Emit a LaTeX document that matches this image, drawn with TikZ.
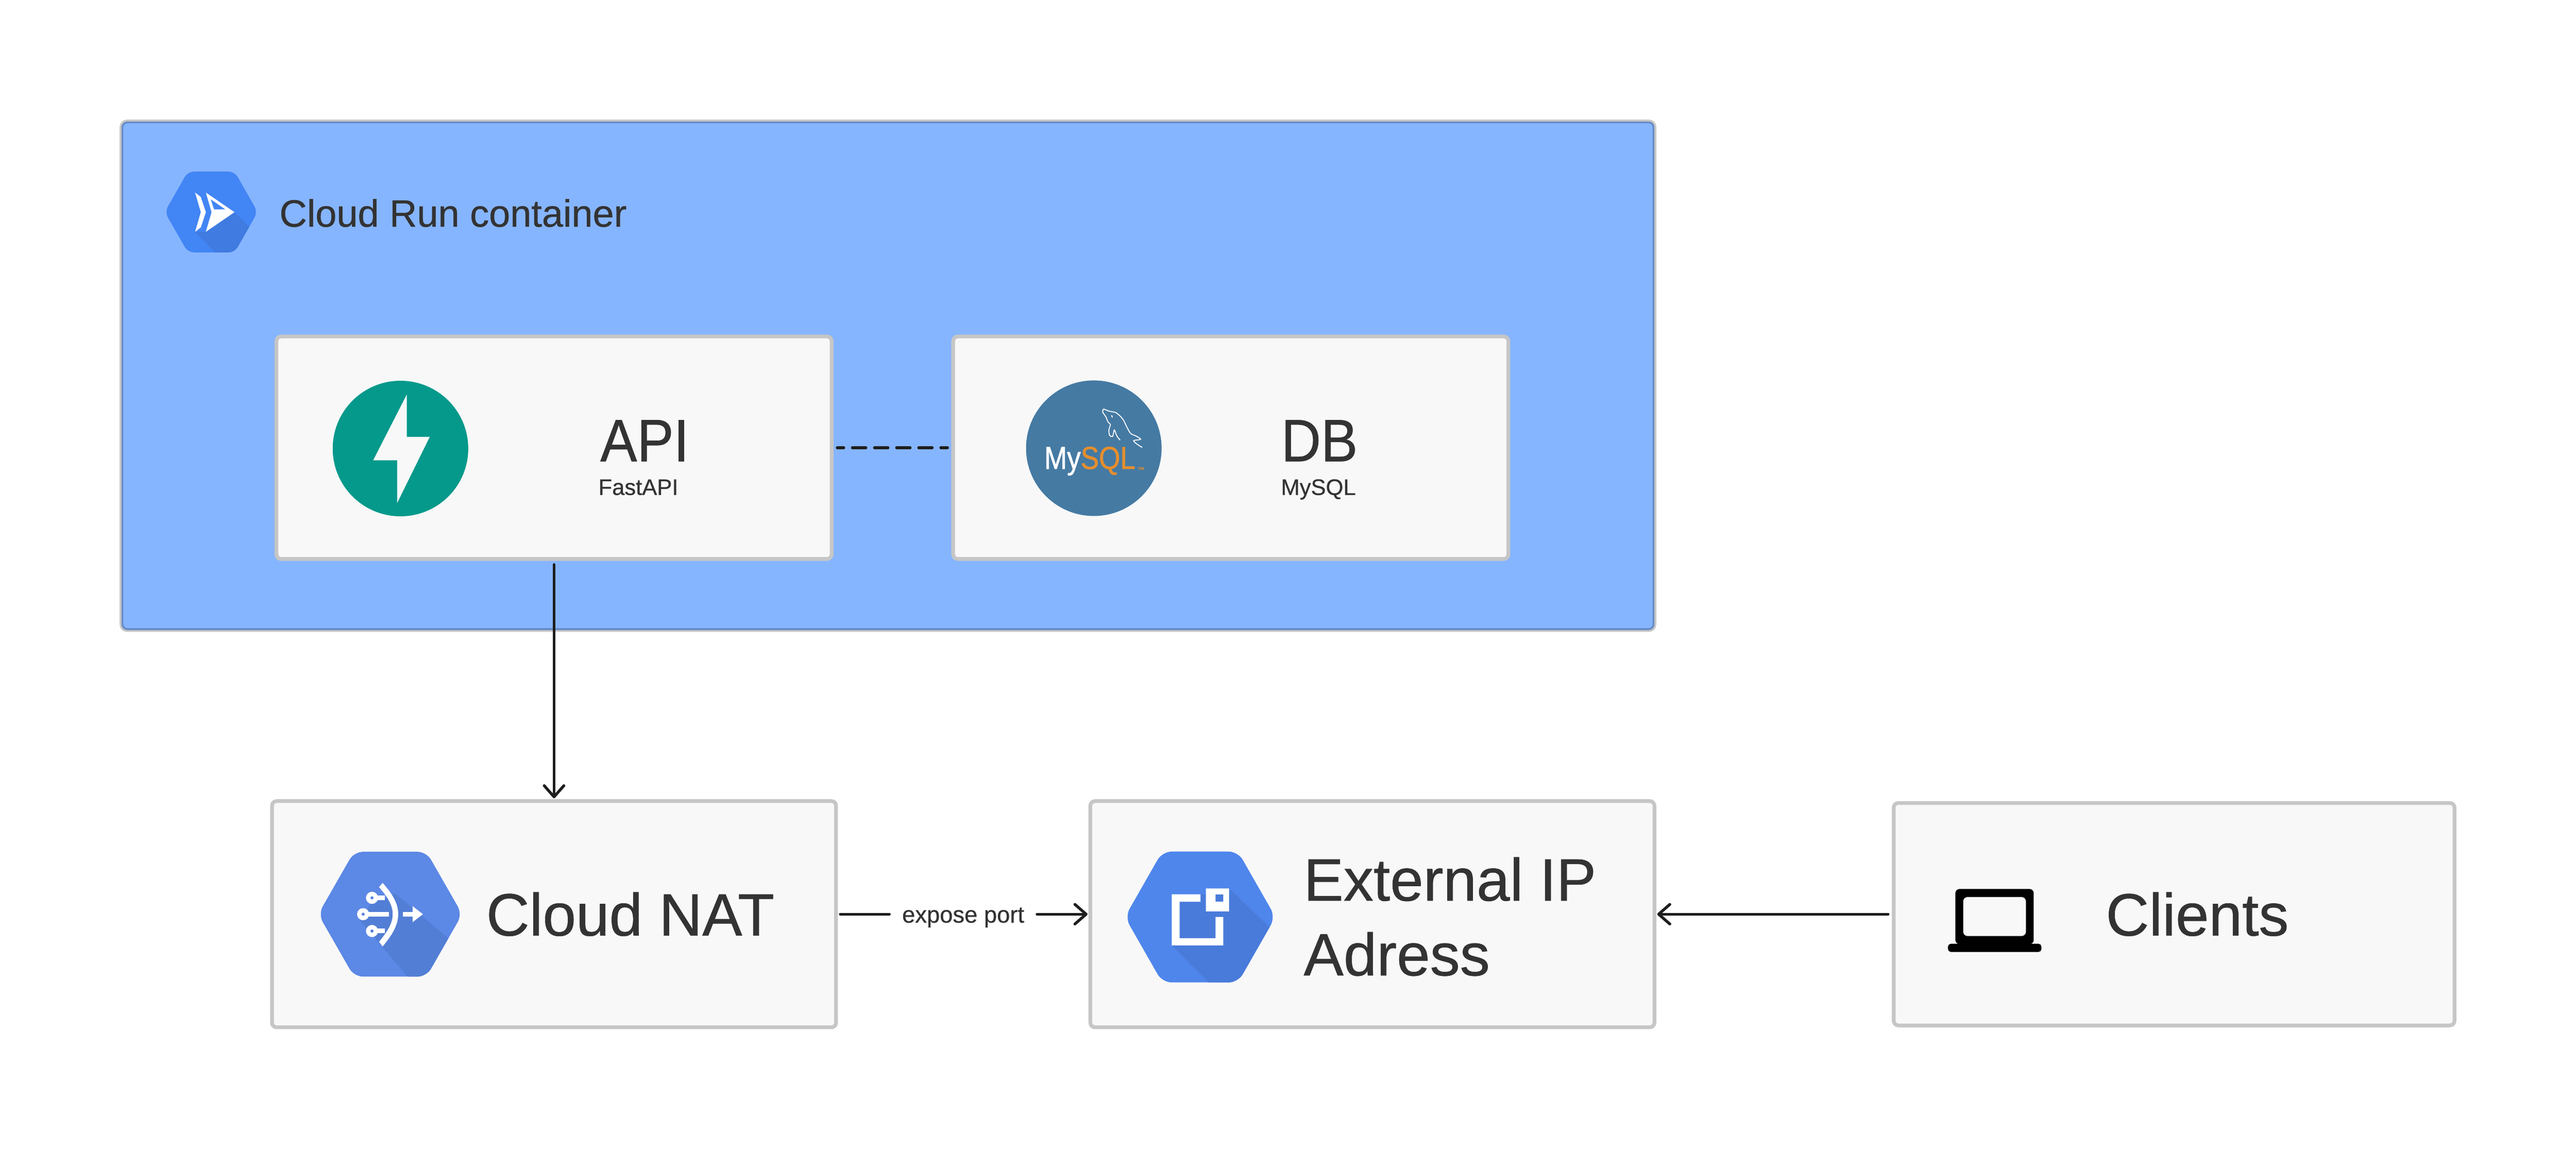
\documentclass[tikz,border=0pt]{standalone}
\usepackage{xcolor}
\usepackage{fontspec}
\setmainfont[FakeBold=0.6]{Liberation Sans}
\newfontfamily\logofont[FakeStretch=0.86,FakeBold=1.2]{Liberation Sans}
\newfontfamily\capsfont[FakeStretch=0.92,FakeBold=0.6]{Liberation Sans}
\usetikzlibrary{positioning,arrows.meta}

\definecolor{containerblue}{HTML}{86B5FF}
\definecolor{boxgray}{HTML}{C6C6C6}
\definecolor{boxfill}{HTML}{F8F8F8}
\definecolor{inktext}{HTML}{333333}
\definecolor{inkline}{HTML}{1E1E1E}
\definecolor{fastapigreen}{HTML}{05998B}
\definecolor{mysqlblue}{HTML}{457AA3}
\definecolor{mysqlorange}{HTML}{E48E2E}
\definecolor{runblue}{HTML}{4285F4}
\definecolor{runshade}{HTML}{3F7BE0}
\definecolor{natblue}{HTML}{5C88E6}
\definecolor{natshade}{HTML}{527ED5}
\definecolor{ipblue}{HTML}{4F86EC}
\definecolor{ipshade}{HTML}{497BDB}

\newcommand{\hexpath}[3]{(0,-#2) -- (#1,-#2) -- (#3,0) -- (#1,#2) -- (-#1,#2) -- (-#3,0) -- (-#1,-#2) -- cycle}

\tikzset{
    box/.style={rectangle, draw=boxgray, fill=boxfill, line width=0.8pt, rounded corners=1pt, outer sep=0pt},
    logo/.style={circle, minimum size=29pt, inner sep=0pt, outer sep=0pt},
    bigtext/.style={anchor=base west, inner sep=0pt, text=inktext, font=\fontsize{12.8}{16}\selectfont},
    smalltext/.style={anchor=base west, inner sep=0pt, text=inktext, font=\fontsize{4.8}{6}\selectfont},
    wire/.style={draw=inkline, line width=0.6pt, line cap=round},
    arrowwire/.style={wire, -{Straight Barb[round,length=2.4pt,width=4.2pt]}},
    px/.style={x=0.1pt, y=-0.1pt}
}

\begin{document}
\begin{tikzpicture}
    \useasboundingbox (0,0) rectangle (551.2pt,245.8pt);

    % Container
    \node[rectangle, draw=black, draw opacity=0.22, fill=containerblue, line width=0.8pt, rounded corners=1.2pt, outer sep=0pt, minimum width=328pt, minimum height=108.8pt] (container) at (190pt,165.4pt) {};
    \node[anchor=base west, inner sep=0pt, text=inktext, font=\fontsize{8.15}{10}\selectfont] (containerlabel) at (59.6pt,197.3pt) {Cloud Run container};

    % Boxes
    \node[box, minimum width=120.7pt, minimum height=48.4pt] (nat) at (118.55pt,50.2pt) {};
    \node[box, minimum width=118.8pt, minimum height=47.6pt, above=51.8pt of nat] (api) {};
    \node[box, minimum width=118.8pt, minimum height=47.6pt, right=26pt of api] (db) {};
    \node[box, minimum width=120.7pt, minimum height=48.4pt, right=54.4pt of nat] (ip) {};
    \node[box, minimum width=120pt, minimum height=47.6pt, right=51.2pt of ip] (clients) {};

    % Labels
    \node[bigtext] (apilabel) at ([xshift=9.7pt,yshift=-2.9pt]api.center) {\capsfont API};
    \node[smalltext] (apisub) at ([xshift=9.3pt,yshift=-10.1pt]api.center) {FastAPI};
    \node[bigtext] (dblabel) at ([xshift=10.6pt,yshift=-2.9pt]db.center) {\capsfont DB};
    \node[smalltext] (dbsub) at ([xshift=10.55pt,yshift=-10.1pt]db.center) {MySQL};
    \node[bigtext] (natlabel) at ([xshift=-14.7pt,yshift=-4.57pt]nat.center) {Cloud NAT};
    \node[bigtext, align=left] (iplabel) at ([xshift=-14.9pt,yshift=-13.1pt]ip.center) {External IP\\Adress};
    \node[bigtext] (clientslabel) at ([xshift=-14.8pt,yshift=-4.57pt]clients.center) {Clients};

    % Connectors
    \draw[arrowwire, shorten <=1.2pt, shorten >=0.6pt] (api.south) -- (nat.north);
    \draw[wire, dash pattern=on 2.9pt off 1.83pt, dash phase=1.5pt, shorten <=1.2pt, shorten >=1.2pt] (api.east) -- (db.west);
    \node[right=11.4pt of nat, inner sep=0pt, outer sep=0pt, minimum width=31.6pt, text height=4.8pt, text depth=1.2pt, text=inktext, font=\fontsize{5}{6}\selectfont] (port) {expose port};
    \draw[wire, shorten <=0.9pt] (nat.east) -- (port.west);
    \draw[arrowwire, shorten >=0.6pt] (port.east) -- (ip.west);
    \draw[arrowwire, shorten <=1.2pt, shorten >=0.6pt] (clients.west) -- (ip.east);

    % Cloud Run icon
    \begin{scope}[shift={(45.2pt,200.44pt)}, px]
        \fill[runblue, rounded corners=1.3pt] \hexpath{50}{86.5}{99.4};
        \begin{scope}
            \clip[rounded corners=1.3pt] \hexpath{50}{86.5}{99.4};
            \fill[runshade] (49.7,0.4) -- (110,60) -- (110,110) -- (31.6,110) -- (-34.5,42.4) -- (-11.5,42.4) -- cycle;
        \end{scope}
        \fill[white] (-11.5,-41.6) -- (49.7,0.4) -- (-11.5,42.4) -- (0.7,0.4) -- cycle;
        \fill[runblue] (-1,-27) -- (29.8,-5.6) -- (6,-5.6) -- cycle;
        \fill[white] (-34.5,-41.6) -- (-22.3,-32) -- (-11.5,0.4) -- (-22.3,33) -- (-34.5,42.4) -- (-22.3,0.4) -- cycle;
    \end{scope}

    % FastAPI logo
    \node[logo, fill=fastapigreen] (fastapi) at ([xshift=-32.86pt,yshift=-0.17pt]api.center) {};
    \begin{scope}[shift={(fastapi.center)}, px]
        \fill[boxfill] (13.6,-115.7) -- (13.6,-25) -- (62.6,-25) -- (-7,116.3) -- (-7,25.3) -- (-58.4,25.3) -- cycle;
    \end{scope}

    % MySQL logo
    \node[logo, fill=mysqlblue] (mysql) at ([xshift=-29.3pt,yshift=-0.1pt]db.center) {};
    \begin{scope}[shift={(mysql.center)}, px]
        \node[anchor=base west, inner sep=0pt, font=\logofont\fontsize{6.8}{7}\selectfont] (mysqltext) at (-108,44.3) {\textcolor{white}{My}\textcolor{mysqlorange}{SQL}};
        \node[anchor=north west, inner sep=0pt, text=mysqlorange, font=\fontsize{1.5}{2}\selectfont] (mysqltm) at (91,38.5) {™};
        \draw[white, line width=0.2pt] plot[smooth] coordinates {(20.6,-84) (33.9,-79) (48,-75.7) (62,-62.3) (70.4,-45.7) (78.7,-31.7) (91,-25.7) (100.2,-19) (85.3,-16.3) (92,-9) (103.5,-1.7)};
        \draw[white, line width=0.2pt] plot[smooth] coordinates {(20.6,-84) (19,-77.3) (25.6,-67.3) (30.6,-55.7) (35.5,-50.7) (32.2,-39) (33.9,-27.3) (40.5,-25.7) (43.8,-39) (49.6,-25.7) (56.3,-17.3)};
        \draw[white, line width=0.2pt] (38,-70.7) -- (39.7,-65.7);
    \end{scope}

    % Cloud NAT icon
    \begin{scope}[shift={(nat.center)}, xshift=-35.05pt, px]
        \fill[natblue, rounded corners=1.9pt] \hexpath{77.5}{133.5}{154};
        \begin{scope}
            \clip[rounded corners=1.9pt] \hexpath{77.5}{133.5}{154};
            \fill[natshade] (11,-44) -- (170,90) -- (170,170) -- (68,170) -- (-64,14) -- (-43,-21) -- cycle;
        \end{scope}
        \fill[white] (-16.3,-67) .. controls (8,-40) and (17,-20) .. (17,0) .. controls (17,20) and (8,40) .. (-16.3,69) -- (-24,59) .. controls (-4,35) and (5.3,18) .. (5.3,0) .. controls (5.3,-18) and (-4,-35) .. (-24,-58) -- cycle;
        \fill[white, even odd rule] (-58,0) circle[radius=13] (-58,0) circle[radius=3.5];
        \fill[white] (-46,-5) rectangle (-3,5);
        \fill[white, even odd rule] (-39,-35) circle[radius=13] (-39,-35) circle[radius=3.5];
        \fill[white] (-28,-40) rectangle (-12,-30);
        \fill[white, even odd rule] (-39,36) circle[radius=13] (-39,36) circle[radius=3.5];
        \fill[white] (-28,31) rectangle (-12,41);
        \fill[white] (27,-5) rectangle (48,5);
        \fill[white] (48,-17) -- (70,0) -- (48,17) -- cycle;
    \end{scope}

    % External IP icon
    \begin{scope}[shift={(ip.center)}, xshift=-36.85pt, yshift=-0.6pt, px]
        \fill[ipblue, rounded corners=2pt] \hexpath{81}{140}{161};
        \begin{scope}
            \clip[rounded corners=2pt] \hexpath{81}{140}{161};
            \fill[ipshade] (62,-61) -- (180,52) -- (180,180) -- (58,180) -- (-60.7,60.7) -- (-60.7,-48.7) -- (12,-48.7) -- cycle;
        \end{scope}
        \fill[white] (-60.7,-48.7) -- (0.7,-48.7) -- (0.7,-32.7) -- (-44,-32.7) -- (-44,45.3) -- (33,45.3) -- (33,0) -- (49.6,0) -- (49.6,60.7) -- (-60.7,60.7) -- cycle;
        \fill[white, even odd rule] (12.3,-61) rectangle (62,-12) (33,-48.3) rectangle (49.6,-33);
    \end{scope}

    % Laptop icon
    \begin{scope}[shift={(clients.center)}, px]
        \fill[black, even odd rule] [rounded corners=0.9pt] (-468,-54) rectangle (-300.4,64) (-451.3,-36.7) rectangle (-317,46.7);
        \fill[black, rounded corners=0.6pt] (-483.7,63.3) rectangle (-284,80.7);
    \end{scope}
\end{tikzpicture}
\end{document}
